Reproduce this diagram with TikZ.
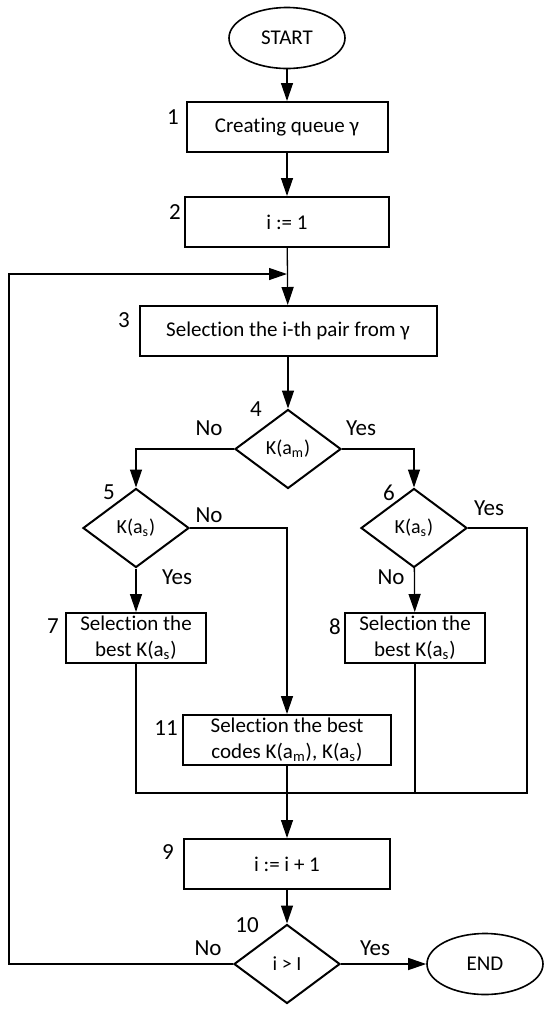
\documentclass[tikz,border=0pt]{standalone}
\usepackage{fontspec}
\setmainfont{Carlito}[Ligatures=NoCommon]
\usetikzlibrary{shapes.geometric,arrows.meta}
\tikzset{
  proc/.style={draw,line width=1pt,minimum height=25pt,inner sep=1pt,align=center,font=\fontsize{10.5}{13}\selectfont},
  dec/.style={draw,diamond,line width=1pt,minimum width=53pt,minimum height=39.5pt,inner sep=0pt,font=\fontsize{10}{11}\selectfont},
  term/.style={draw,ellipse,line width=0.8pt,minimum width=58pt,minimum height=30.5pt,font=\fontsize{10.5}{12}\selectfont},
  num/.style={font=\fontsize{11.5}{12}\selectfont,inner sep=0pt},
  ans/.style={font=\fontsize{11.5}{12}\selectfont,inner sep=0pt},
  flow/.style={line width=0.65pt,-{Triangle[length=9pt,width=6pt]}},
  link/.style={line width=0.65pt}
}
\begin{document}
\begin{tikzpicture}[x=0.5pt,y=-0.5pt]
\useasboundingbox (0,0) rectangle (550,1009);
% blocks of the main column
\node[term] (start) at (287,38) {START};
\node[proc,minimum width=100.5pt] (n1) at (287,127) {Creating queue γ};
\node[proc,minimum width=102pt] (n2) at (287,222) {i := 1};
\node[proc,minimum width=148.5pt] (n3) at (288,331) {Selection the i-th pair from γ};
\node[dec] (n4) at (288,449) {K(a\textsubscript{m})};
% the two branches
\node[dec] (n5) at (136,528) {K(a\textsubscript{s})};
\node[dec] (n6) at (414,528) {K(a\textsubscript{s})};
\node[proc,minimum width=70pt] (n7) at (136,638) {Selection the\\best K(a\textsubscript{s})};
\node[proc,minimum width=70pt] (n8) at (415,638) {Selection the\\best K(a\textsubscript{s})};
\node[proc,minimum width=104pt] (n11) at (287,740) {Selection the best\\codes K(a\textsubscript{m}), K(a\textsubscript{s})};
\node[proc,minimum width=103pt] (n9) at (287,864) {i := i + 1};
\node[dec] (n10) at (287,964) {i > I};
\node[term] (stop) at (485,964) {END};
% block numbers
\node[num] (k1) at (173,117) {1};
\node[num] (k2) at (175,212) {2};
\node[num] (k3) at (124,320) {3};
\node[num] (k4) at (256,409) {4};
\node[num] (k5) at (109,492) {5};
\node[num] (k6) at (389,493) {6};
\node[num] (k7) at (53,626) {7};
\node[num] (k8) at (335,627) {8};
\node[num] (k11) at (166,728) {11};
\node[num] (k9) at (168,852) {9};
\node[num] (k10) at (247,925) {10};
% answers
\node[ans] (a4no) at (209,428) {No};
\node[ans] (a4yes) at (361,428) {Yes};
\node[ans] (a5no) at (209,515) {No};
\node[ans] (a5yes) at (177,577) {Yes};
\node[ans] (a6yes) at (489,508) {Yes};
\node[ans] (a6no) at (391,577) {No};
\node[ans] (a10no) at (208,948) {No};
\node[ans] (a10yes) at (375,948) {Yes};
% helper points
\coordinate (jn) at (287,274);
\coordinate (lpup) at (9,274);
\coordinate (lpdn) at (9,964);
\coordinate (mr) at (527,793);
\coordinate (ml) at (136,793);
% connectors
\draw[flow] (start) -- (n1);
\draw[flow] (n1) -- (n2);
\draw[flow] (n2) -- (n3);
\draw[flow] (n3) -- (n4);
\draw[flow] (n4.west) -| (n5.north);
\draw[flow] (n4.east) -| (n6.north);
\draw[flow] (n5) -- (n7);
\draw[flow] (n6) -- (n8);
\draw[flow] (n5.east) -| (n11.north);
\draw[link] (n6.east) -| (mr) -- (ml) -- (n7.south);
\draw[link] (n8.south) -- (n8.south |- mr);
\draw[flow] (n11) -- (n9);
\draw[flow] (n9) -- (n10);
\draw[flow] (n10) -- (stop);
\draw[flow] (n10.west) -- (lpdn) -- (lpup) -- (jn);
\end{tikzpicture}
\end{document}
